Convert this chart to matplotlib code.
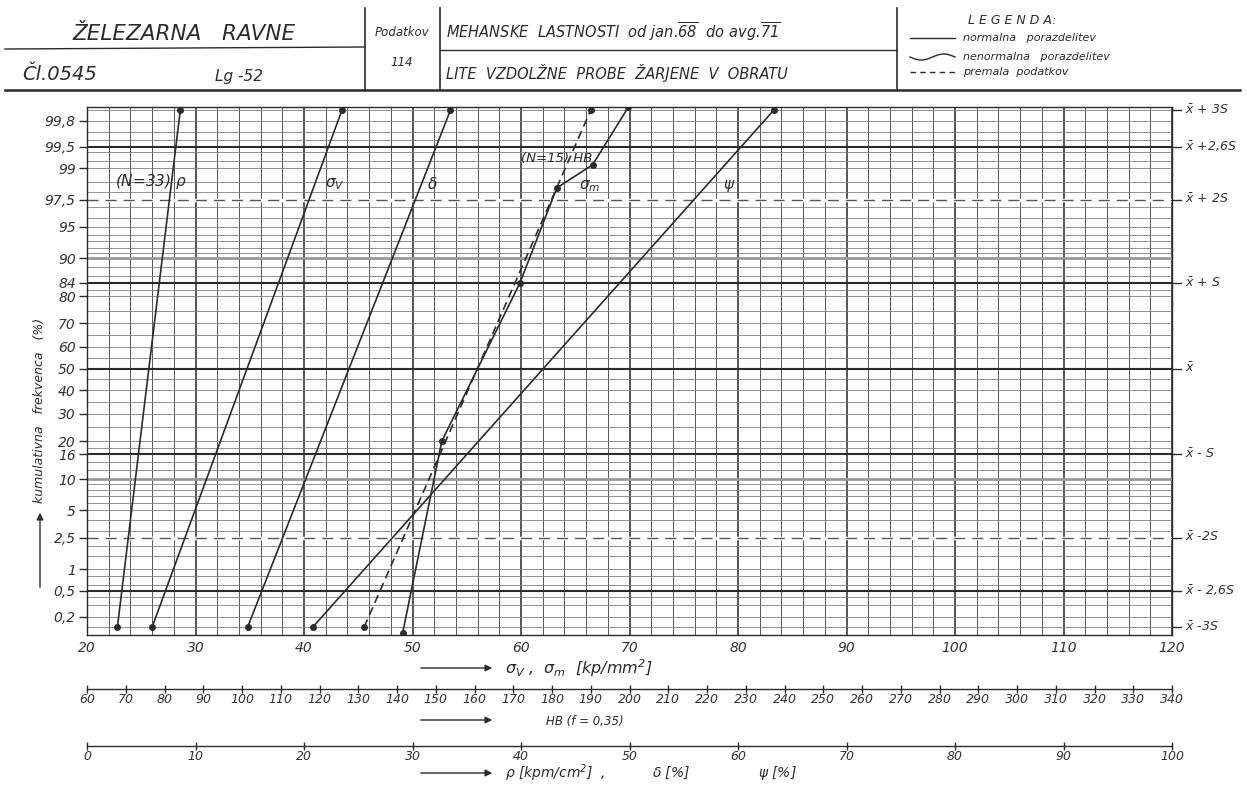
import matplotlib
matplotlib.use("Agg")
import matplotlib.pyplot as plt
import numpy as np
from statistics import NormalDist

# cumulative frequency (%) of the end points (x-3S .. x+3S)
p_ends = [0.135, 99.865]

rho_kpm = [2.8, 8.6]        # rho [kpm/cm2], N=33
sigma_v = [26.0, 43.5]      # [kp/mm2]
delta_pct = [14.8, 33.5]    # delta [%]
psi_pct = [20.8, 63.3]      # psi [%]
hb_vals = [131.5, 190.0]    # HB, N=15 (premalo podatkov)

sigma_m_p = [0.11, 20, 84, 98.2, 99.1, 99.88]
sigma_m = [49.1, 52.7, 59.9, 63.3, 66.6, 69.9]

y_ticks = [0.2, 0.5, 1, 2.5, 5, 10, 16, 20, 30, 40, 50, 60, 70, 80, 84, 90,
           95, 97.5, 99, 99.5, 99.8]
y_ticklabels = ['0,2', '0,5', '1', '2,5', '5', '10', '16', '20', '30', '40',
                '50', '60', '70', '80', '84', '90', '95', '97,5', '99',
                '99,5', '99,8']

sig_levels = [0.135, 0.5, 2.5, 16, 50, 84, 97.5, 99.5, 99.865]
sig_labels = [r'$\bar{x}$ -3S', r'$\bar{x}$ - 2,6S', r'$\bar{x}$ -2S',
              r'$\bar{x}$ - S', r'$\bar{x}$', r'$\bar{x}$ + S',
              r'$\bar{x}$ + 2S', r'$\bar{x}$ +2,6S', r'$\bar{x}$ + 3S']

grid_half = [0.135, 0.2, 0.3, 0.4, 0.5, 0.6, 0.8, 1, 1.5, 2, 2.5, 3, 4, 5, 6,
             7, 8, 9, 10, 12, 14, 16, 18, 20, 25, 30, 35, 40, 45]
grid_probs = grid_half + [50] + [100 - p for p in grid_half]

W, H = 1247, 785
INK = '#2b2b2b'
GRID = '#555555'

plt.rcParams['font.family'] = ['DejaVu Sans']
plt.rcParams['font.style'] = 'italic'
plt.rcParams['mathtext.fontset'] = 'dejavusans'

nd = NormalDist()


def fwd(p):
    p = np.clip(np.asarray(p, dtype=float) / 100.0, 1e-7, 1 - 1e-7)
    return np.vectorize(nd.inv_cdf, otypes=[float])(p)


def inv(z):
    z = np.asarray(z, dtype=float)
    return np.vectorize(nd.cdf, otypes=[float])(z) * 100.0


fig = plt.figure(figsize=(W / 100, H / 100), dpi=100)

# overlay in pixel coordinates for the title block and free labels
ov = fig.add_axes([0, 0, 1, 1])
ov.set_xlim(0, W)
ov.set_ylim(H, 0)
ov.axis('off')

# title block
ov.plot([5, 1240], [90, 90], color=INK, lw=1.8)
ov.plot([5, 365], [49, 47], color=INK, lw=1.0)
ov.plot([440, 897], [50, 50], color=INK, lw=1.0)
for xv in [365, 440, 897]:
    ov.plot([xv, xv], [8, 90], color=INK, lw=1.2)

ov.text(72, 34, 'ŽELEZARNA   RAVNE', fontsize=15.5, color=INK, va='center')
ov.text(22, 75, 'Čl.0545', fontsize=14, color=INK, va='center')
ov.text(215, 77, 'Lg -52', fontsize=11, color=INK, va='center')
ov.text(402, 32, 'Podatkov', fontsize=8.5, color=INK, ha='center', va='center')
ov.text(402, 62, '114', fontsize=8.5, color=INK, ha='center', va='center')
ov.text(446, 32, r'MEHANSKE  LASTNOSTI  od jan.$\overline{68}$  do avg.$\overline{71}$',
        fontsize=10.5, color=INK, va='center')
ov.text(446, 73, 'LITE  VZDOLŽNE  PROBE  ŽARJENE  V  OBRATU',
        fontsize=10.5, color=INK, va='center')

ov.text(968, 20, 'L E G E N D A:', fontsize=9, color=INK, va='center')
ov.plot([910, 955], [38, 38], color=INK, lw=1.0)
wx = np.linspace(910, 955, 40)
ov.plot(wx, 57 + 3 * np.sin((wx - 910) / 45 * 2 * np.pi), color=INK, lw=1.0)
ov.plot([910, 955], [72, 72], color=INK, lw=1.0, dashes=(4, 3))
ov.text(963, 38, 'normalna   porazdelitev', fontsize=8, color=INK, va='center')
ov.text(963, 57, 'nenormalna   porazdelitev', fontsize=8, color=INK, va='center')
ov.text(963, 72, 'premala  podatkov', fontsize=8, color=INK, va='center')

# y axis label with arrow
ov.text(40, 410, 'kumulativna   frekvenca   (%)', fontsize=9, color=INK,
        rotation=90, ha='center', va='center')
ov.annotate('', xy=(40, 510), xytext=(40, 590),
            arrowprops=dict(arrowstyle='-|>', color=INK, lw=1.0))

# x axis titles with arrows
for ya in [668, 720, 773]:
    ov.annotate('', xy=(495, ya), xytext=(418, ya),
                arrowprops=dict(arrowstyle='-|>', color=INK, lw=1.0))
ov.text(505, 668, r'$\sigma_V$ ,  $\sigma_m$  [kp/mm$^2$]', fontsize=11.5,
        color=INK, va='center')
ov.text(546, 721, 'HB (f = 0,35)', fontsize=8.5, color=INK, va='center')
ov.text(505, 773, r'$\rho$ [kpm/cm$^2$]  ,', fontsize=10, color=INK, va='center')
ov.text(652, 773, r'$\delta$ [%]', fontsize=10, color=INK, va='center')
ov.text(758, 773, r'$\psi$ [%]', fontsize=10, color=INK, va='center')

# probability paper
ax = fig.add_axes([87 / W, 1 - 635 / H, 1085 / W, 528 / H])
ax.set_xlim(20, 120)
ax.set_yscale('function', functions=(fwd, inv))
ax.set_ylim(0.1, 99.88)

for v in np.arange(20, 121, 2):
    ax.axvline(v, color=GRID, lw=1.4 if v % 10 == 0 else 0.7, zorder=1)
for p in grid_probs:
    ax.axhline(p, color='#808080', lw=0.6, zorder=1)
for p in [10, 90]:
    ax.axhline(p, color='#999999', lw=2.0, zorder=1)
for p in [0.5, 16, 50, 84, 99.5]:
    ax.axhline(p, color=INK, lw=1.5, zorder=1)
for p in [2.5, 97.5]:
    ax.axhline(p, color='white', lw=2.5, zorder=1.5)
    ax.axhline(p, color=GRID, lw=1.0, dashes=(8, 5), zorder=2)

for s in ax.spines.values():
    s.set_color(INK)
    s.set_linewidth(1.0)

ax.set_yticks(y_ticks)
ax.set_yticklabels(y_ticklabels)
ax.minorticks_off()
ax.tick_params(axis='y', direction='out', length=6, width=1.0, color=INK,
               labelsize=10, labelcolor='#333333', pad=2)
ax.set_xticks(range(20, 121, 10))
ax.tick_params(axis='x', length=0, labelsize=10, labelcolor='#333333', pad=4)

ytr = ax.get_yaxis_transform()
for p, lab in zip(sig_levels, sig_labels):
    ax.plot([1.0, 1.008], [p, p], color=INK, lw=1.0, transform=ytr,
            clip_on=False)
    ax.text(1.012, p, lab, transform=ytr, fontsize=9, color='#333333',
            va='center', ha='left')

# secondary scales
ax_hb = ax.twiny()
ax_hb.set_xlim(60, 340)
ax_pct = ax.twiny()
ax_pct.set_xlim(0, 100)
for a, off, step, top in [(ax_hb, 39, 10, 340), (ax_pct, 80, 10, 100)]:
    a.xaxis.set_ticks_position('bottom')
    a.xaxis.set_label_position('bottom')
    for k in ['top', 'left', 'right']:
        a.spines[k].set_visible(False)
    a.spines['bottom'].set_position(('outward', off))
    a.spines['bottom'].set_color(INK)
    a.spines['bottom'].set_linewidth(1.0)
    a.set_xticks(range(int(a.get_xlim()[0]), top + 1, step))
    a.tick_params(axis='x', direction='inout', length=6, width=1.0,
                  color=INK, labelsize=9, labelcolor='#333333', pad=0)

# series
line_kw = dict(color=INK, lw=1.2, marker='o', ms=4, zorder=5)
ax_pct.plot(rho_kpm, p_ends, **line_kw)
ax.plot(sigma_v, p_ends, **line_kw)
ax_pct.plot(delta_pct, p_ends, **line_kw)
ax_pct.plot(psi_pct, p_ends, **line_kw)
ax_hb.plot(hb_vals, p_ends, dashes=(5, 3), **line_kw)
ax.plot(sigma_m, sigma_m_p, **line_kw)

lab_kw = dict(fontsize=11, color=INK, va='center', zorder=6)
ax.text(22.6, 98.5, r'(N=33) $\rho$', **lab_kw)
ax.text(41.9, 98.4, r'$\sigma_V$', **lab_kw)
ax.text(51.3, 98.4, r'$\delta$', **lab_kw)
ax.text(60.0, 99.27, '(N=15) HB', fontsize=9.5, color=INK, va='center', zorder=6)
ax.text(65.3, 98.3, r'$\sigma_m$', **lab_kw)
ax.text(78.6, 98.3, r'$\psi$', **lab_kw)

fig.savefig('out.png', dpi=100)
